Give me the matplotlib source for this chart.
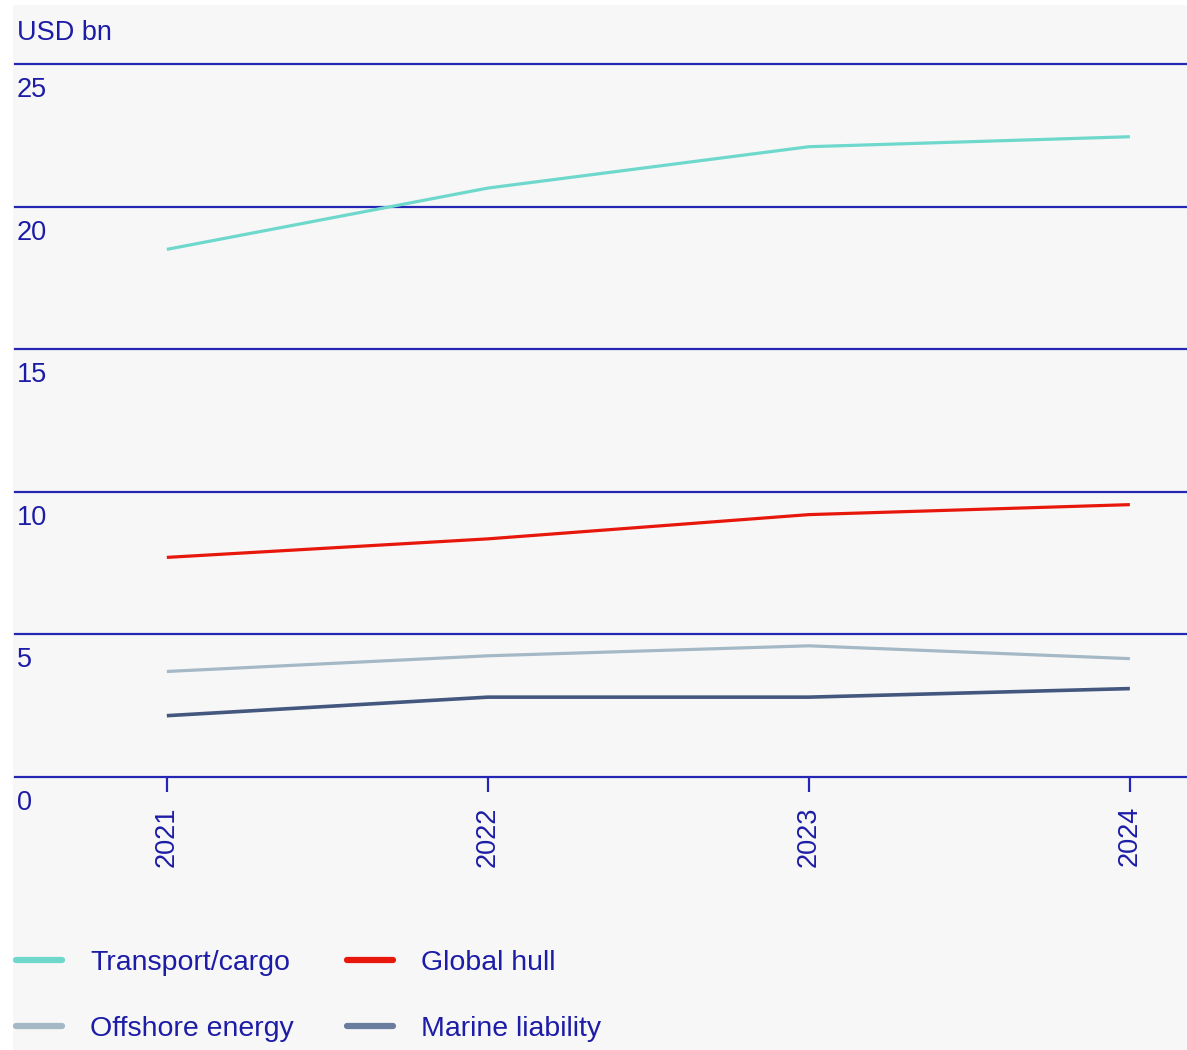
import matplotlib
matplotlib.use("Agg")
import matplotlib.pyplot as plt
from matplotlib.patches import Rectangle
from matplotlib.lines import Line2D
from matplotlib.transforms import offset_copy

plt.rcParams['font.family'] = ['Liberation Sans', 'DejaVu Sans']

# data (USD bn)
years = [2021, 2022, 2023, 2024]
transport_cargo = [18.5, 20.65, 22.1, 22.45]
global_hull = [7.7, 8.35, 9.2, 9.55]
offshore_energy = [3.7, 4.25, 4.6, 4.15]
marine_liability = [2.15, 2.8, 2.8, 3.1]
y_ticks = [0, 5, 10, 15, 20, 25]

text_col = "#1c1ca6"
grid_col = "#2626b4"
bg_col = "#f7f7f7"
fs = 19.5
fs_leg = 20.5

fig = plt.figure(figsize=(11.87, 10.5), dpi=100, facecolor="white")
fig.patches.append(Rectangle((13 / 1187, 0), 1, 1 - 5 / 1050, transform=fig.transFigure,
                             facecolor=bg_col, edgecolor="none", zorder=-10))

ax = fig.add_axes([15 / 1187, 1 - 777 / 1050, 1 - 15 / 1187, (777 - 64) / 1050])
ax.set_facecolor("none")

ax.plot(years, transport_cargo, color="#6fd8cc", lw=2.3, solid_capstyle="butt")
ax.plot(years, global_hull, color="#e8170c", lw=2.3, solid_capstyle="butt")
ax.plot(years, offshore_energy, color="#a5b8c6", lw=2.3, solid_capstyle="butt")
ax.plot(years, marine_liability, color="#44577f", lw=2.6, solid_capstyle="butt")

ax.set_xlim(2020.527, 2024.178)
ax.set_ylim(0, 25)
ax.set_yticks(y_ticks)
ax.set_yticklabels([])
ax.tick_params(axis="y", length=0)
ax.grid(axis="y", color=grid_col, lw=1.6, clip_on=False)
ax.set_axisbelow(True)
for s in ax.spines.values():
    s.set_visible(False)

# y labels sit just under each gridline, at the left
trans = offset_copy(ax.get_yaxis_transform(), fig=fig, x=2, y=-13, units="dots")
for v in y_ticks:
    ax.text(0, v, str(v), transform=trans, ha="left", va="top",
            fontsize=fs, color=text_col)

ax.set_xticks(years)
ax.set_xticklabels([str(y) for y in years], rotation=90, fontsize=fs, color=text_col)
ax.tick_params(axis="x", direction="out", length=11, width=1.6, color=grid_col, pad=10)

fig.text(17 / 1187, 1 - 33 / 1050, "USD bn", ha="left", va="center",
         fontsize=fs, color=text_col)

# legend: rows Transport/Global, Offshore/Marine
h_tc = Line2D([], [], color="#6fd8cc", lw=4.5, solid_capstyle="round")
h_gh = Line2D([], [], color="#e8170c", lw=4.5, solid_capstyle="round")
h_oe = Line2D([], [], color="#a5b8c6", lw=4.5, solid_capstyle="round")
h_ml = Line2D([], [], color="#6a7d9e", lw=4.5, solid_capstyle="round")
leg = fig.legend([h_tc, h_oe, h_gh, h_ml],
                 ["Transport/cargo", "Offshore energy", "Global hull", "Marine liability"],
                 loc="upper left", bbox_to_anchor=(16 / 1187, 1 - 950 / 1050),
                 ncol=2, frameon=False, fontsize=fs_leg, handlelength=1.6,
                 handletextpad=1.0, columnspacing=1.88, labelspacing=1.4,
                 borderpad=0, borderaxespad=0)
for t in leg.get_texts():
    t.set_color(text_col)

fig.savefig("out.png", dpi=100, facecolor=fig.get_facecolor())
